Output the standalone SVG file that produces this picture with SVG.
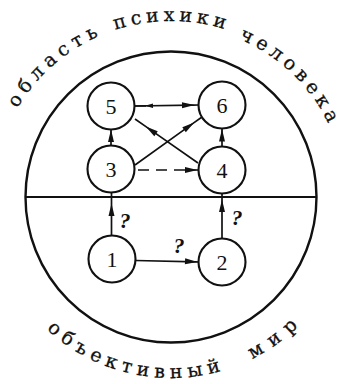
<svg xmlns="http://www.w3.org/2000/svg" width="342" height="384" viewBox="0 0 342 384">
<style>
.node circle{fill:#fff;stroke:#111;stroke-width:2.1}
.node text{font-family:"Liberation Serif",serif;font-size:22px;fill:#111;text-anchor:middle}
.c{fill:none;stroke:#111;stroke-width:1.7;marker-mid:url(#ah)}
.q{font-family:"Liberation Serif",serif;font-size:22px;font-style:italic;font-weight:bold;fill:#111;text-anchor:middle}
.arc{font-family:"DejaVu Serif",serif;font-size:19px;fill:#111;text-anchor:middle;stroke:#111;stroke-width:0.3}
</style>
<defs>
<marker id="ah" markerUnits="userSpaceOnUse" viewBox="-13 -4 15 8" markerWidth="15" markerHeight="8" refX="0" refY="0" orient="auto">
<path d="M1.5,0 L-11,-3 L-11,3 Z" fill="#111"/>
</marker>
<marker id="ahs" markerUnits="userSpaceOnUse" viewBox="-9 -3 10 6" markerWidth="10" markerHeight="6" refX="0" refY="0" orient="auto">
<path d="M1,0 L-7,-2.2 L-7,2.2 Z" fill="#111"/>
</marker>
<path id="topArc" d="M-8,200 A179,179 0 0 1 350,200"/>
<path id="topArc2" d="M171,25 A175,175 0 0 1 337.4,145.9"/>
<path id="botArc" d="M-12,195 A183,183 0 0 0 354,195"/>
</defs>
<rect width="342" height="384" fill="#fff"/>
<g id="frame">
<circle cx="171" cy="197" r="145.5" fill="none" stroke="#111" stroke-width="2.4"/>
<line x1="25.5" y1="197" x2="316.5" y2="197" stroke="#111" stroke-width="2.2"/>
</g>
<g id="labels">
<text class="arc" letter-spacing="5.5"><textPath href="#topArc" startOffset="154">область</textPath></text>
<text class="arc" letter-spacing="4.5"><textPath href="#topArc" startOffset="282">психики</textPath></text>
<text class="arc" letter-spacing="4.8"><textPath href="#topArc2" startOffset="135">человека</textPath></text>
<text class="arc" letter-spacing="5.5"><textPath href="#botArc" startOffset="247">объективный</textPath></text>
<text class="arc" letter-spacing="8.5"><textPath href="#botArc" startOffset="404">мир</textPath></text>
</g>
<g id="connectors">
<path class="c" d="M134.5,106 L193,105.1 L198.5,105"/>
<path d="M146,105.8 L134.5,106" fill="none" stroke="#111" stroke-width="1.7" marker-start="url(#ahs)"/>
<path class="c" d="M111,145.5 L111,131 L111,130"/>
<path class="c" d="M222,146.5 L222,130.5 L222,128.5"/>
<path class="c" d="M135,165 L193,123.4 L202,117"/>
<path class="c" d="M198,163 L147,127.4 L135,119"/>
<path class="c" d="M138,170 L196,170 L198,170" stroke-dasharray="11 7"/>
<path class="c" d="M111.5,235.5 L111.5,205 L111.5,192.5"/>
<path class="c" d="M222,238.5 L222,201 L222,193.5"/>
<path class="c" d="M135.5,260.5 L196,261.8 L198.5,262"/>
<text class="q" x="125" y="228">?</text>
<text class="q" x="237" y="225">?</text>
<text class="q" x="179" y="253">?</text>
</g>
<g id="n5" class="node"><circle cx="111" cy="106" r="23.5"/><text x="111" y="113.5">5</text></g>
<g id="n6" class="node"><circle cx="222" cy="105" r="23.5"/><text x="222" y="112.5">6</text></g>
<g id="n3" class="node"><circle cx="111" cy="169" r="23.5"/><text x="111" y="176.5">3</text></g>
<g id="n4" class="node"><circle cx="222" cy="170" r="23.5"/><text x="222" y="177.5">4</text></g>
<g id="n1" class="node"><circle cx="112" cy="259" r="23.5"/><text x="112" y="266.5">1</text></g>
<g id="n2" class="node"><circle cx="222" cy="262" r="23.5"/><text x="222" y="269.5">2</text></g>
</svg>
